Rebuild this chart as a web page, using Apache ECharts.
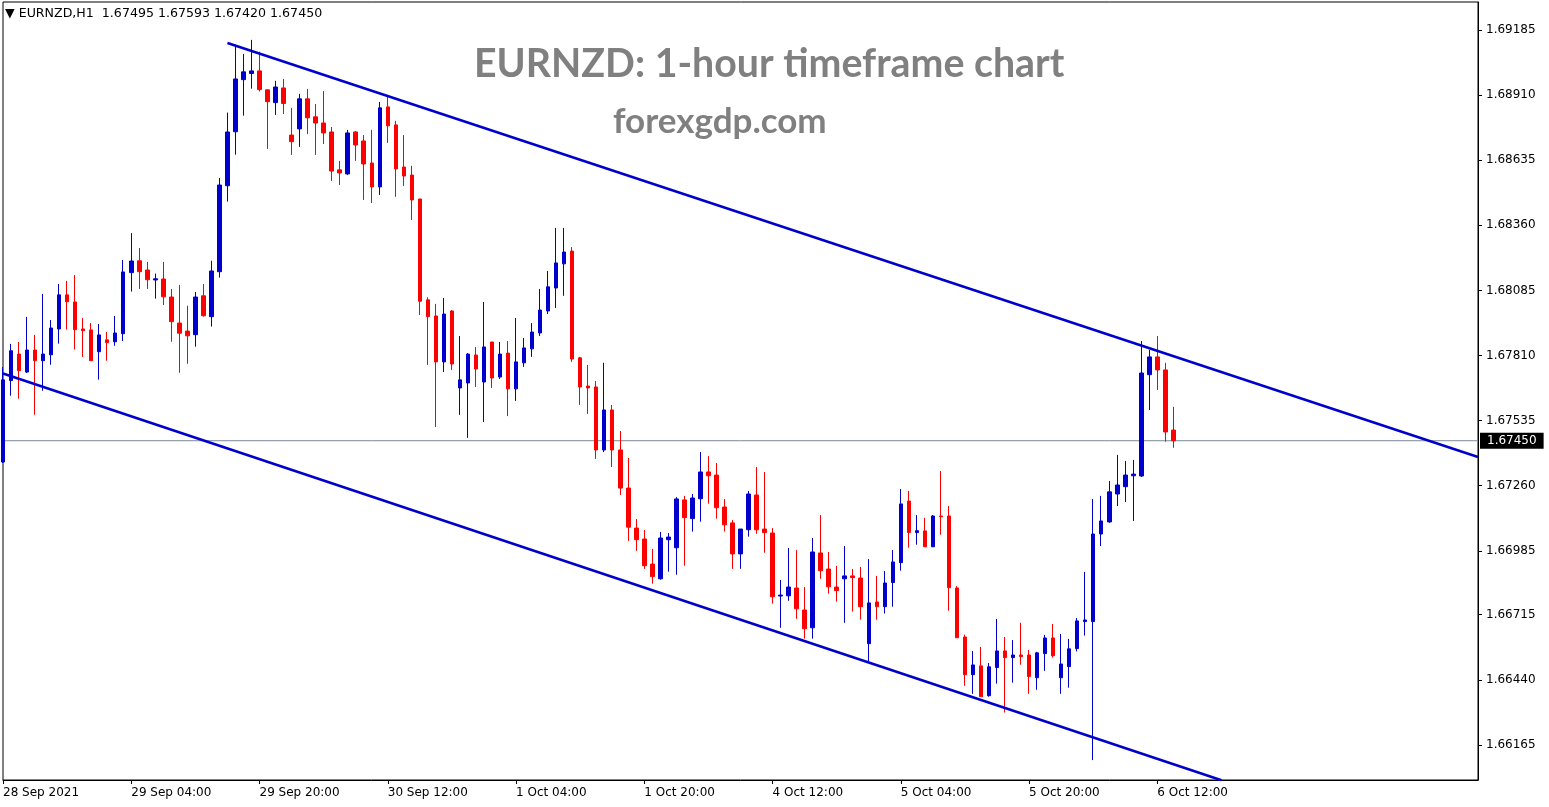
<!DOCTYPE html>
<html>
<head>
<meta charset="utf-8">
<script src="https://cdn.jsdelivr.net/npm/echarts@6/dist/echarts.min.js"></script>
<style>
html,body{margin:0;padding:0;background:#fff;}
#chart{width:1549px;height:807px;}
</style>
</head>
<body>
<div id="chart"></div>
<script>
// ---- DATA (EURNZD H1) ----
const symbolHeader = '\u25BC EURNZD,H1  1.67495 1.67593 1.67420 1.67450';
const chartTitle = 'EURNZD: 1-hour timeframe chart';
const chartSubtitle = 'forexgdp.com';

const openPrices = [
1.67360,1.67704,1.67816,1.67740,1.67833,1.67788,1.67813,1.67922,1.68066,1.68036,
1.67922,1.67918,1.67826,1.67876,1.67868,1.67902,1.68160,1.68210,1.68171,1.68129,
1.68133,1.68057,1.67947,1.67913,1.67898,1.68062,1.67974,1.68164,1.68527,1.68755,
1.68975,1.69001,1.69012,1.68932,1.68878,1.68940,1.68741,1.68767,1.68894,1.68818,
1.68792,1.68754,1.68594,1.68577,1.68754,1.68716,1.68623,1.68522,1.68860,1.68784,
1.68606,1.68572,1.68471,1.68045,1.67977,1.67783,1.67998,1.67673,1.67694,1.67812,
1.67698,1.67867,1.67719,1.67820,1.67669,1.67779,1.67838,1.67905,1.67998,1.68095,
1.68197,1.68251,1.67800,1.67681,1.67677,1.67411,1.67580,1.67411,1.67250,1.67081,
1.67035,1.66929,1.66867,1.67032,1.66998,1.67200,1.67121,1.67205,1.67318,1.67305,
1.67170,1.67103,1.66972,1.67074,1.67221,1.67077,1.67060,1.66794,1.66795,1.66828,
1.66735,1.66660,1.66976,1.66908,1.66832,1.66867,1.66879,1.66870,1.66593,1.66769,
1.66749,1.66851,1.66935,1.67195,1.67062,1.67069,1.67002,1.67132,1.67132,1.66828,
1.66621,1.66462,1.66499,1.66373,1.66492,1.66562,1.66534,1.66545,1.66545,1.66449,
1.66551,1.66617,1.66449,1.66496,1.66572,1.66686,1.66686,1.67056,1.67107,1.67225,
1.67256,1.67302,1.67301,1.67729,1.67804,1.67749,1.67495
];
const closePrices = [
1.67707,1.67830,1.67746,1.67833,1.67788,1.67816,1.67926,1.68066,1.68037,1.67919,
1.67915,1.67788,1.67897,1.67864,1.67905,1.68163,1.68209,1.68164,1.68130,1.68134,
1.68058,1.67953,1.67904,1.67893,1.68057,1.67978,1.68167,1.68530,1.68754,1.68978,
1.69008,1.69012,1.68933,1.68882,1.68944,1.68874,1.68713,1.68894,1.68814,1.68792,
1.68750,1.68589,1.68581,1.68750,1.68699,1.68619,1.68522,1.68856,1.68780,1.68598,
1.68568,1.68467,1.68039,1.67974,1.67783,1.67985,1.67774,1.67707,1.67816,1.67753,
1.67846,1.67715,1.67816,1.67669,1.67783,1.67842,1.67909,1.68002,1.68100,1.68201,
1.68247,1.67795,1.67677,1.67673,1.67411,1.67580,1.67411,1.67250,1.67085,1.67032,
1.66922,1.66876,1.67039,1.67043,1.67204,1.67125,1.67208,1.67318,1.67302,1.67167,
1.67095,1.66972,1.67077,1.67225,1.67074,1.67062,1.66791,1.66798,1.66832,1.66740,
1.66656,1.66980,1.66901,1.66833,1.66817,1.66879,1.66872,1.66749,1.66765,1.66749,
1.66849,1.66938,1.67183,1.67062,1.67070,1.67002,1.67132,1.67129,1.66829,1.66618,
1.66462,1.66503,1.66369,1.66495,1.66562,1.66534,1.66545,1.66538,1.66454,1.66554,
1.66617,1.66542,1.66507,1.66571,1.66689,1.66693,1.67056,1.67111,1.67234,1.67263,
1.67305,1.67309,1.67736,1.67804,1.67749,1.67487,1.67450
];
const lowPrices = [
1.67356,1.67640,1.67628,1.67736,1.67560,1.67661,1.67771,1.67860,1.67919,1.67835,
1.67804,1.67788,1.67708,1.67788,1.67851,1.67871,1.68080,1.68091,1.68091,1.68050,
1.68023,1.67868,1.67737,1.67775,1.67847,1.67974,1.67932,1.68139,1.68460,1.68658,
1.68823,1.68937,1.68925,1.68682,1.68826,1.68830,1.68657,1.68691,1.68745,1.68657,
1.68703,1.68547,1.68530,1.68572,1.68632,1.68467,1.68454,1.68488,1.68708,1.68480,
1.68526,1.68382,1.67981,1.67770,1.67508,1.67740,1.67749,1.67559,1.67462,1.67677,
1.67529,1.67673,1.67711,1.67554,1.67618,1.67762,1.67804,1.67892,1.67985,1.68011,
1.68062,1.67783,1.67601,1.67563,1.67373,1.67402,1.67339,1.67221,1.67027,1.66985,
1.66909,1.66846,1.66863,1.66897,1.66884,1.66922,1.67066,1.67108,1.67184,1.67121,
1.67066,1.66909,1.66909,1.67045,1.67057,1.66977,1.66762,1.66660,1.66774,1.66698,
1.66614,1.66614,1.66867,1.66804,1.66770,1.66681,1.66728,1.66694,1.66516,1.66694,
1.66720,1.66749,1.66901,1.66998,1.67011,1.67002,1.67002,1.67053,1.66732,1.66618,
1.66415,1.66381,1.66369,1.66369,1.66424,1.66302,1.66428,1.66504,1.66381,1.66398,
1.66478,1.66534,1.66381,1.66407,1.66560,1.66627,1.66101,1.67005,1.67103,1.67174,
1.67191,1.67111,1.67297,1.67580,1.67664,1.67446,1.67420
];
const highPrices = [
1.67761,1.67859,1.67867,1.67973,1.67897,1.68070,1.67960,1.68112,1.68125,1.68150,
1.67968,1.67947,1.67943,1.67909,1.67977,1.68213,1.68327,1.68264,1.68205,1.68156,
1.68205,1.68091,1.68108,1.68020,1.68078,1.68112,1.68210,1.68560,1.68836,1.69123,
1.69084,1.69143,1.69093,1.68932,1.68970,1.68978,1.68856,1.68915,1.68936,1.68872,
1.68927,1.68775,1.68632,1.68763,1.68758,1.68741,1.68763,1.68881,1.68902,1.68801,
1.68741,1.68611,1.68471,1.68056,1.68028,1.68053,1.68002,1.67892,1.67820,1.67846,
1.68036,1.67867,1.67867,1.67871,1.67968,1.67884,1.67947,1.68091,1.68167,1.68349,
1.68349,1.68268,1.67804,1.67770,1.67702,1.67779,1.67601,1.67491,1.67377,1.67119,
1.67073,1.66993,1.67065,1.67060,1.67212,1.67217,1.67225,1.67402,1.67385,1.67356,
1.67204,1.67115,1.67077,1.67238,1.67339,1.67318,1.67081,1.66862,1.66997,1.66988,
1.66832,1.67039,1.67136,1.66980,1.66921,1.67005,1.66908,1.66917,1.66950,1.66879,
1.66900,1.66988,1.67246,1.67238,1.67136,1.67124,1.67136,1.67322,1.67174,1.66836,
1.66631,1.66562,1.66579,1.66511,1.66697,1.66621,1.66608,1.66681,1.66566,1.66558,
1.66630,1.66676,1.66634,1.66613,1.66701,1.66896,1.67204,1.67217,1.67280,1.67390,
1.67364,1.67369,1.67871,1.67833,1.67892,1.67779,1.67593
];

const xTickLabels = ['28 Sep 2021','29 Sep 04:00','29 Sep 20:00','30 Sep 12:00','1 Oct 04:00',
  '1 Oct 20:00','4 Oct 12:00','5 Oct 04:00','5 Oct 20:00','6 Oct 12:00'];
const xTickStep = 16;          // one label every 16 hourly bars
const futureSlots = 38;        // empty space to the right of the last bar
const yTickLabels = [1.66165,1.66440,1.66715,1.66985,1.67260,1.67535,1.67810,1.68085,1.68360,1.68635,1.68910,1.69185];
const yMin = 1.66017, yMax = 1.69303;
const lastPrice = 1.67450;

// channel lines: [bar index, price] end points
const upperChannel = [[28, 1.69130], [184, 1.67381]];
const lowerChannel = [[0, 1.67734], [152, 1.66016]];

// ---- build categories (hourly bars, weekend skipped) ----
const categories = [];
(function(){
  let t = Date.UTC(2021, 8, 28, 12);
  const mon = ['Jan','Feb','Mar','Apr','May','Jun','Jul','Aug','Sep','Oct','Nov','Dec'];
  while (categories.length < openPrices.length) {
    const d = new Date(t);
    const wd = d.getUTCDay();
    if (wd !== 0 && wd !== 6) {
      categories.push(d.getUTCDate() + ' ' + mon[d.getUTCMonth()] + ' ' + String(d.getUTCHours()).padStart(2,'0') + ':00');
    }
    t += 3600000;
  }
  for (let i = 0; i < futureSlots; i++) categories.push('');
})();

const candleData = openPrices.map((o, i) => [o, closePrices[i], lowPrices[i], highPrices[i]]);
const lastIndex = categories.length - 1;
const priceLineData = [[0, lastPrice], [lastIndex, lastPrice]];

const tickShown = (idx) => idx % xTickStep === 0 && (idx / xTickStep) < xTickLabels.length;

const BLUE = '#0000cd', RED = '#ff0000';
const FONT = 'DejaVu Sans';

const chart = echarts.init(document.getElementById('chart'), null, {renderer: 'canvas'});
chart.setOption({
  animation: false,
  backgroundColor: '#ffffff',
  grid: {left: 2, top: 2, right: 71, bottom: 27, show: true, borderColor: '#000', borderWidth: 1, backgroundColor: '#fff'},
  xAxis: {
    type: 'category',
    data: categories,
    boundaryGap: false,
    axisLine: {show: true, lineStyle: {color: '#000', width: 1}},
    axisTick: {show: true, interval: tickShown, length: 4, lineStyle: {color: '#000'}},
    axisLabel: {
      show: true,
      interval: tickShown,
      formatter: (v, idx) => xTickLabels[idx / xTickStep] || '',
      align: 'left',
      color: '#000',
      fontFamily: FONT,
      fontSize: 12,
      margin: 7
    },
    splitLine: {show: false}
  },
  yAxis: {
    type: 'value',
    position: 'right',
    min: yMin,
    max: yMax,
    scale: true,
    axisLine: {show: true, lineStyle: {color: '#000', width: 1}},
    axisTick: {show: true, length: 4, customValues: yTickLabels, lineStyle: {color: '#000'}},
    axisLabel: {
      show: true,
      customValues: yTickLabels,
      formatter: (v) => v.toFixed(5),
      color: '#000',
      fontFamily: FONT,
      fontSize: 12,
      margin: 8
    },
    splitLine: {show: false}
  },
  graphic: [
    {type: 'text', left: 5, top: 7, style: {text: symbolHeader, fill: '#000', font: '12.6px "DejaVu Sans"'}},
    {type: 'text', left: 474, top: 45, style: {text: chartTitle, fill: '#808080', font: 'bold 39.3px Lato'}},
    {type: 'text', left: 613, top: 104, style: {text: chartSubtitle, fill: '#808080', font: 'bold 35px Lato'}}
  ],
  series: [
    {
      type: 'line', data: priceLineData, showSymbol: false, silent: true, z: 1,
      lineStyle: {color: '#7a8899', width: 1},
      endLabel: {
        show: true, distance: 2,
        formatter: () => lastPrice.toFixed(5),
        color: '#fff', backgroundColor: '#000', padding: [2, 7, 2, 7],
        fontFamily: FONT, fontSize: 12
      }
    },
    {
      type: 'candlestick',
      data: candleData,
      barWidth: 4,
      clip: true,
      z: 2,
      itemStyle: {color: BLUE, color0: RED, borderColor: BLUE, borderColor0: RED, borderColorDoji: BLUE, borderWidth: 1}
    },
    {
      type: 'line', data: upperChannel, showSymbol: false, clip: true, z: 5,
      lineStyle: {color: BLUE, width: 2.5}
    },
    {
      type: 'line', data: lowerChannel, showSymbol: false, clip: true, z: 5,
      lineStyle: {color: BLUE, width: 2.5}
    }
  ]
});
</script>
</body>
</html>
